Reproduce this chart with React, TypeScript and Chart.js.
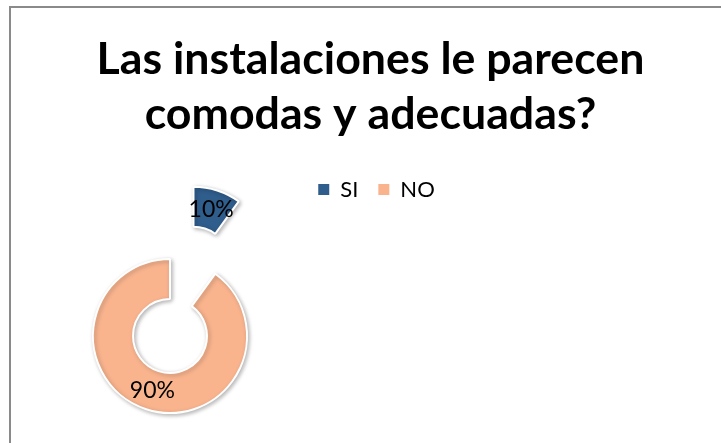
import React, { useEffect, useRef } from 'react';
import { Chart, registerables } from 'chart.js';

Chart.register(...registerables);

// ---- data ----
const categories: string[] = ['SI', 'NO'];
const values: number[] = [10, 90];
const sliceColors: string[] = ['#2f5d8c', '#f9b48e'];
const explodeDistances: number[] = [76, 0];
const titleLines: string[] = ['Las instalaciones le parecen', 'comodas y adecuadas?'];

// ---- style / layout constants ----
const FONT = 'Lato, "Open Sans", sans-serif';
const PLOT_CENTER = { x: 170, y: 336 };
const PLOT_HALF = 80;
const TITLE_TARGET_WIDTH = 548;
const LEGEND_SHIFT_X = 6;

export default function App() {
  const ref = useRef<HTMLCanvasElement>(null);

  useEffect(() => {
    const canvas = ref.current as HTMLCanvasElement;
    const mctx = document.createElement('canvas').getContext('2d') as CanvasRenderingContext2D;
    mctx.font = `bold 100px ${FONT}`;
    const w100 = mctx.measureText(titleLines[0]).width;
    const titleSize = Math.round((100 * TITLE_TARGET_WIDTH / w100) * 10) / 10;

    const total = values.reduce((a, b) => a + b, 0);

    const layoutPlugin = {
      id: 'excelLayout',
      afterLayout(chart: any) {
        const a = chart.chartArea;
        a.left = PLOT_CENTER.x - PLOT_HALF;
        a.right = PLOT_CENTER.x + PLOT_HALF;
        a.top = PLOT_CENTER.y - PLOT_HALF;
        a.bottom = PLOT_CENTER.y + PLOT_HALF;
        a.width = a.right - a.left;
        a.height = a.bottom - a.top;
        if (chart.legend) {
          chart.legend.left += LEGEND_SHIFT_X;
          chart.legend.right += LEGEND_SHIFT_X;
        }
      },
    };

    const explodePlugin = {
      id: 'explode',
      afterDatasetsUpdate(chart: any) {
        const meta = chart.getDatasetMeta(0);
        meta.data.forEach((arc: any, i: number) => {
          const d = explodeDistances[i] || 0;
          if (!d) return;
          const mid = (arc.startAngle + arc.endAngle) / 2;
          arc.x += Math.cos(mid) * d;
          arc.y += Math.sin(mid) * d;
        });
      },
    };

    const shadowAndLabels = {
      id: 'shadowAndLabels',
      beforeDatasetsDraw(chart: any) {
        const ctx = chart.ctx;
        ctx.save();
        ctx.shadowColor = 'rgba(0,0,0,0.28)';
        ctx.shadowBlur = 4;
        ctx.shadowOffsetX = 1.5;
        ctx.shadowOffsetY = 1.5;
      },
      afterDatasetsDraw(chart: any) {
        const ctx = chart.ctx;
        ctx.restore();
        const meta = chart.getDatasetMeta(0);
        ctx.save();
        ctx.font = `23px ${FONT}`;
        ctx.fillStyle = '#000000';
        ctx.textAlign = 'center';
        ctx.textBaseline = 'middle';
        meta.data.forEach((arc: any, i: number) => {
          const p = arc.tooltipPosition(true);
          const pct = Math.round((values[i] / total) * 100) + '%';
          ctx.fillText(pct, p.x, p.y);
        });
        ctx.restore();
      },
    };

    const chart = new Chart(canvas, {
      type: 'doughnut',
      data: {
        labels: categories,
        datasets: [
          {
            data: values,
            backgroundColor: sliceColors,
            borderColor: '#ffffff',
            borderWidth: 2,
            clip: false as any,
          } as any,
        ],
      },
      options: {
        responsive: false,
        animation: false,
        events: [],
        cutout: '48%',
        radius: 77,
        layout: { padding: { left: 20, right: 0, top: 0, bottom: 0 } },
        plugins: {
          title: {
            display: true,
            text: titleLines,
            color: '#000000',
            font: { family: FONT, weight: 'bold', size: titleSize, lineHeight: '55px' } as any,
            padding: { top: 32, bottom: 16.5 },
          },
          legend: {
            display: true,
            position: 'top',
            labels: {
              boxWidth: 11,
              boxHeight: 11,
              padding: 20,
              color: '#000000',
              font: { family: FONT, size: 22 },
              generateLabels: (c: any) =>
                (Chart as any).overrides.doughnut.plugins.legend.labels
                  .generateLabels(c)
                  .map((l: any) => ({ ...l, lineWidth: 0 })),
            },
          },
          tooltip: { enabled: false },
        },
      } as any,
      plugins: [layoutPlugin, explodePlugin, shadowAndLabels],
    });

    return () => chart.destroy();
  }, []);

  return (
    <div
      style={{
        position: 'fixed',
        left: 0,
        top: 0,
        width: 721,
        height: 443,
        overflow: 'hidden',
        background: '#ffffff',
      }}
    >
      <div
        style={{
          position: 'absolute',
          left: 9,
          top: 6,
          width: 800,
          height: 600,
          border: '2px solid #8a8a8a',
          boxSizing: 'border-box',
        }}
      />
      <canvas
        ref={ref}
        width={721}
        height={443}
        style={{ position: 'absolute', left: 0, top: 0, width: 721, height: 443 }}
      />
    </div>
  );
}
